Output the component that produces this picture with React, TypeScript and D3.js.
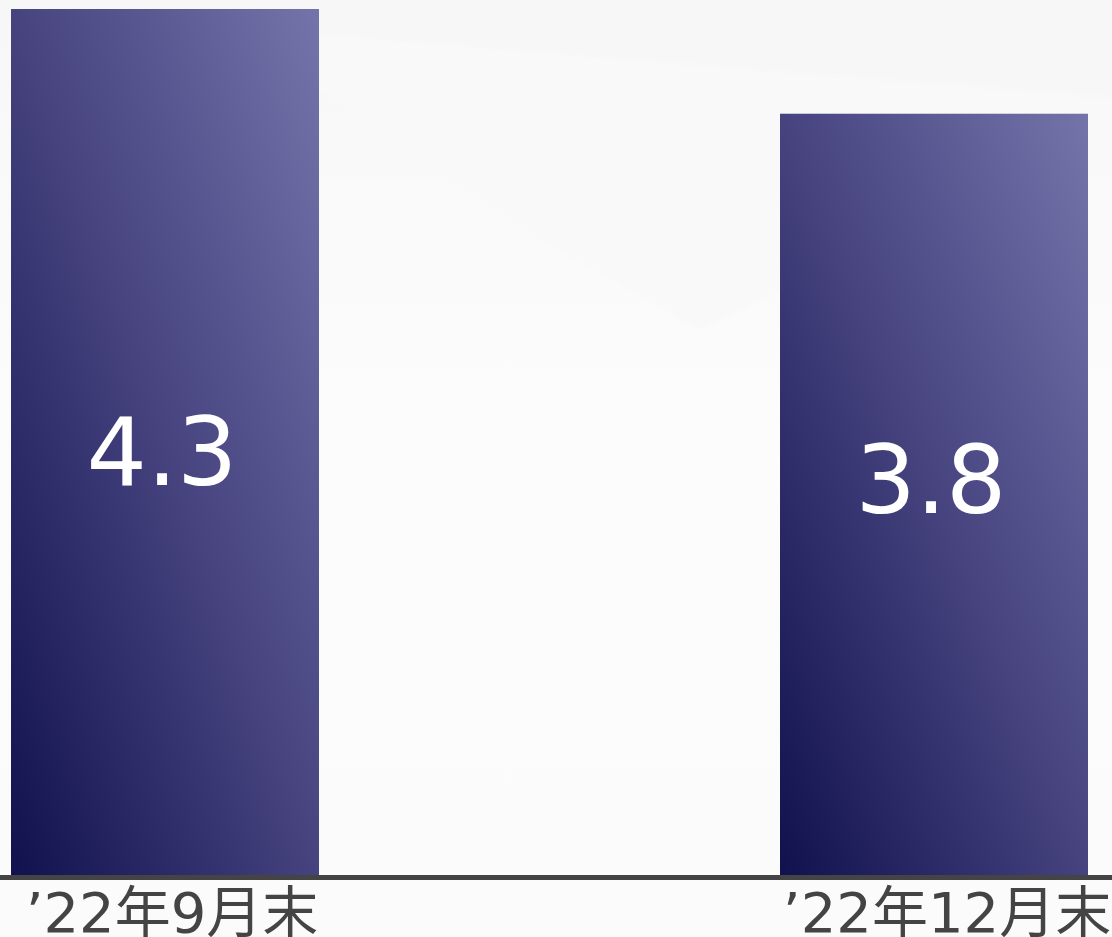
import React from "react";
import * as d3 from "d3";

const categories = ["’22年9月末", "’22年12月末"];
const values = [4.3, 3.78];
const valueLabels = ["4.3", "3.8"];

// style-only tweaks for label placement
const valueLabelDy = [8, -16];
const catLabelDx = [7, 13];

const W = 1112;
const H = 937;

export default function App() {
  const barW = 308;
  const xPos = d3.scalePoint<string>().domain(categories).range([11, 780]);
  const y = d3.scaleLinear().domain([0, 4.3]).range([875, 9]);

  return (
    <svg
      width={W}
      height={H}
      style={{ position: "absolute", left: 0, top: 0, display: "block" }}
    >
      <defs>
        <linearGradient id="bg" x1="0" y1="0" x2="0" y2="1">
          <stop offset="0" stopColor="#f7f7f7" />
          <stop offset="0.45" stopColor="#fcfcfc" />
          <stop offset="1" stopColor="#fbfbfb" />
        </linearGradient>
        <linearGradient id="barGrad" x1="0" y1="1" x2="1" y2="0">
          <stop offset="0" stopColor="#10114d" />
          <stop offset="0.5" stopColor="#46437f" />
          <stop offset="1" stopColor="#7474aa" />
        </linearGradient>
      </defs>
      <rect x={0} y={0} width={W} height={H} fill="url(#bg)" />
      <path
        d="M320,30 L800,70 L1112,95 L1112,0 L320,0 Z"
        fill="#f6f6f6"
        opacity={0.8}
      />
      <path
        d="M320,90 L540,240 L700,330 L1112,130 L1112,100 L800,75 L320,35 Z"
        fill="#f9f9f9"
        opacity={0.8}
      />
      {categories.map((c, i) => {
        const bx = xPos(c) as number;
        const top = y(values[i]);
        const bottom = y(0);
        const mid = (top + bottom) / 2 + valueLabelDy[i];
        return (
          <g key={c}>
            <rect
              x={bx}
              y={top}
              width={barW}
              height={bottom - top}
              fill="url(#barGrad)"
            />
            <text
              x={bx + barW / 2 - 3}
              y={mid}
              dy="0.365em"
              textAnchor="middle"
              fill="#ffffff"
              fontFamily="'DejaVu Sans', sans-serif"
              fontSize={95}
            >
              {valueLabels[i]}
            </text>
            <text
              x={bx + barW / 2 + catLabelDx[i]}
              y={932}
              textAnchor="middle"
              fill="#444444"
              fontFamily="'DejaVu Sans', 'Noto Sans CJK JP', sans-serif"
              fontSize={56}
            >
              {c}
            </text>
          </g>
        );
      })}
      <line
        x1={0}
        x2={W}
        y1={y(0) + 2.5}
        y2={y(0) + 2.5}
        stroke="#444444"
        strokeWidth={5}
      />
    </svg>
  );
}
